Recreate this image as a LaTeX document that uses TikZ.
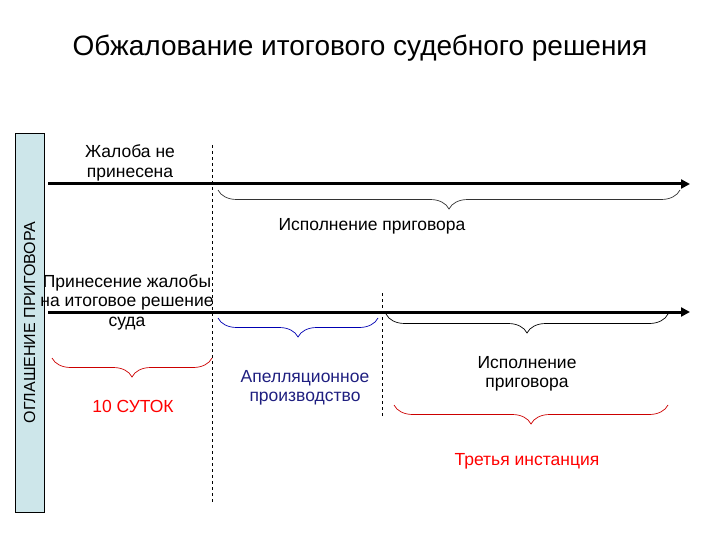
\documentclass[tikz,border=0pt]{standalone}
\usepackage{fontspec}
\setmainfont{Liberation Sans}
\usetikzlibrary{decorations.pathreplacing,arrows.meta}
\definecolor{barfill}{HTML}{CDE6EA}
\definecolor{apblue}{HTML}{1F1F80}
\begin{document}
\begin{tikzpicture}[x=1pt,y=1pt,
  timeline/.style={line width=3pt,-{Triangle[length=9pt,width=9pt]}},
  sep/.style={dashed,line width=0.6pt},
  brc/.style={decorate,decoration={brace,mirror,amplitude=19pt},line width=0.7pt},
  lbl/.style={font=\fontsize{17.5}{19.5}\selectfont,align=center}]
\useasboundingbox (0,0) rectangle (720,-540);
\node[font=\fontsize{28}{32}\selectfont] (title) at (360,-48) {Обжалование итогового судебного решения};
\node[draw,fill=barfill,line width=0.8pt,minimum width=29pt,minimum height=379pt,inner sep=0pt] (bar) at (29.5,-322.5) {};
\node[rotate=90,font=\fontsize{16}{20}\selectfont] (bartext) at (bar.center) {ОГЛАШЕНИЕ ПРИГОВОРА};
\coordinate (a1) at (48,-184); \coordinate (a2) at (690,-184);
\coordinate (b1) at (48,-312); \coordinate (b2) at (690,-312);
\draw[timeline] (a1) -- (a2);
\draw[timeline] (b1) -- (b2);
\coordinate (d1) at (212,-145); \coordinate (d2) at (212,-502);
\coordinate (e1) at (382,-293); \coordinate (e2) at (382,-418);
\draw[sep] (d1) -- (d2);
\draw[sep] (e1) -- (e2);
\node[lbl] (t1) at (130,-163) {Жалоба не\\принесена};
\node[lbl] (t2) at (127,-302) {Принесение жалобы\\на итоговое решение\\суда};
\draw[brc,black!80] (218,-190) -- (680,-190);
\node[lbl] (t3) at (372,-226) {Исполнение приговора};
\draw[brc,blue!70!black] (218,-318) -- (378,-318);
\node[lbl,text=apblue] (t4) at (305,-388) {Апелляционное\\производство};
\draw[brc,black] (386,-314) -- (668,-314);
\node[lbl] (t5) at (527,-374) {Исполнение\\приговора};
\draw[brc,red!80!black] (52,-358) -- (212,-358);
\node[lbl,text=red] (t6) at (133,-406) {10 СУТОК};
\draw[brc,red!80!black] (394,-405) -- (668,-405);
\node[lbl,text=red] (t7) at (527,-461) {Третья инстанция};
\end{tikzpicture}
\end{document}
